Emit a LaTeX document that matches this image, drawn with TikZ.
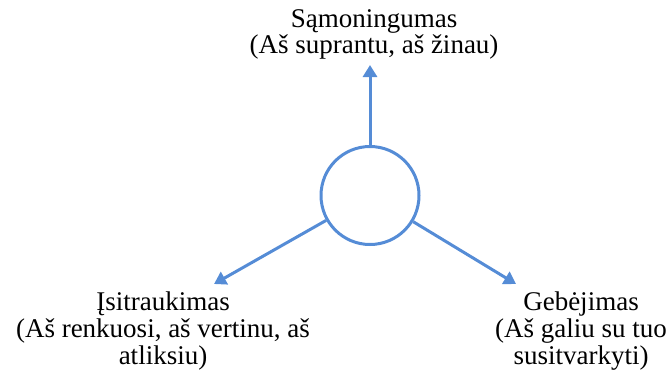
\documentclass[tikz,border=0pt]{standalone}
\usepackage{fontspec}
\setmainfont{Liberation Serif}
\usetikzlibrary{arrows.meta}
\definecolor{accentblue}{RGB}{85,140,214}
\tikzset{
  label text/.style={font=\fontsize{27}{26.6}\selectfont, align=center, inner sep=0pt, anchor=north, text=black},
  ring/.style={circle, draw=accentblue, line width=3pt, minimum size=98pt, inner sep=0pt},
  link/.style={draw=accentblue, line width=3pt, -{Triangle[width=14pt,length=12pt]}}
}
\begin{document}
\begin{tikzpicture}[x=1pt,y=-1pt]
  \useasboundingbox (0,0) rectangle (671,381);
  \node[ring] (hub) at (370,195.5) {};
  \coordinate (upEnd) at (370,65);
  \coordinate (leftEnd) at (214,284);
  \coordinate (rightEnd) at (516,284);
  \draw[link] (hub) -- (upEnd);
  \draw[link] (hub) -- (leftEnd);
  \draw[link] (hub) -- (rightEnd);
  \node[label text] (awareness) at (374,9) {Sąmoningumas\\(Aš suprantu, aš žinau)};
  \node[label text] (engagement) at (163,292) {Įsitraukimas\\(Aš renkuosi, aš vertinu, aš\\atliksiu)};
  \node[label text] (ability) at (581,292) {Gebėjimas\\(Aš galiu su tuo\\susitvarkyti)};
\end{tikzpicture}
\end{document}
